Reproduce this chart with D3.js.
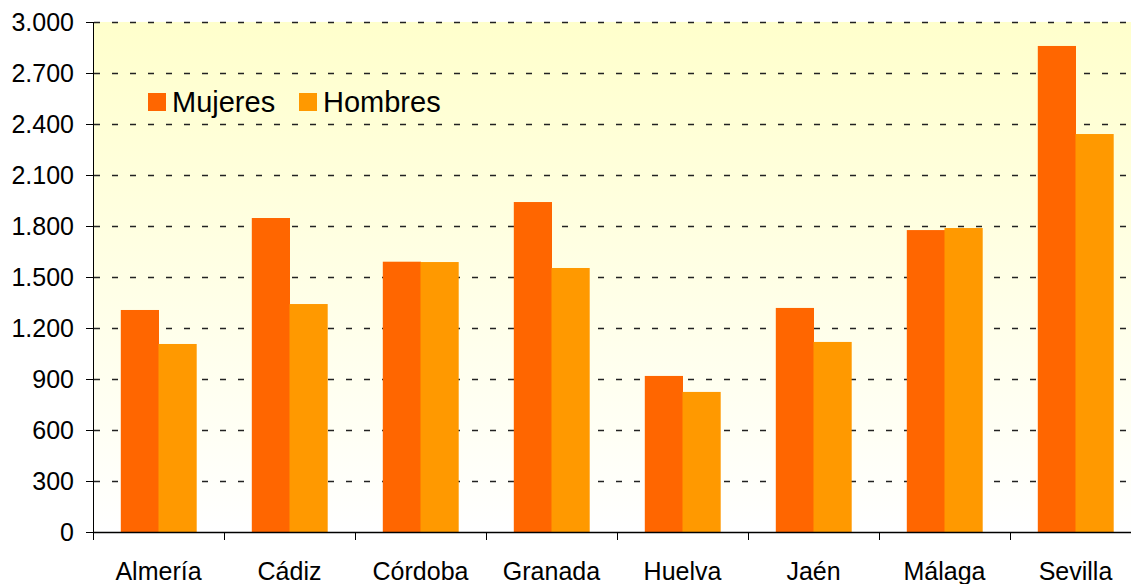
<!DOCTYPE html>
<html>
<head>
<meta charset="utf-8">
<script src="https://cdn.jsdelivr.net/npm/d3@7"></script>
<style>
    body { margin: 0; background: #fff; }
    text { font-family: "Liberation Sans", Arial, sans-serif; fill: #000; }
</style>
</head>
<body>
<div id="chart"></div>
<script>
// Datos
const provincias = ["Almería", "Cádiz", "Córdoba", "Granada", "Huelva", "Jaén", "Málaga", "Sevilla"];
const series = ["Mujeres", "Hombres"];
const mujeres = [1306, 1847, 1590, 1941, 918, 1318, 1776, 2859];
const hombres = [1106, 1341, 1588, 1553, 824, 1118, 1788, 2341];
const yTicks = [0, 300, 600, 900, 1200, 1500, 1800, 2100, 2400, 2700, 3000];
const colores = ["#FF6600", "#FF9900"];

const data = provincias.map((p, i) => ({ provincia: p, Mujeres: mujeres[i], Hombres: hombres[i] }));

// Tamaños
const W = 1131, H = 584;
const margin = { top: 22, left: 93 };
const band = 131;
const height = 510;

const svg = d3.select("#chart")
    .append("svg")
    .attr("width", W)
    .attr("height", H);

// Fondo degradado
const grad = svg.append("defs").append("linearGradient")
    .attr("id", "fondo")
    .attr("x1", 0).attr("y1", 0).attr("x2", 0).attr("y2", 1);
grad.append("stop").attr("offset", "0%").attr("stop-color", "#FFFFCC");
grad.append("stop").attr("offset", "100%").attr("stop-color", "#FFFFFF");

const x = d3.scaleBand()
    .domain(provincias)
    .range([margin.left, margin.left + band * provincias.length])
    .padding(0);

const xs = d3.scaleBand()
    .domain(series)
    .range([27.8, 103.2]);

const y = d3.scaleLinear()
    .domain([0, 3000])
    .range([margin.top + height, margin.top]);

svg.append("rect")
    .attr("x", margin.left)
    .attr("y", margin.top)
    .attr("width", W - margin.left)
    .attr("height", height)
    .attr("fill", "url(#fondo)");

// Líneas de cuadrícula
svg.append("g")
    .selectAll("line")
    .data(yTicks.filter(d => d > 0))
    .enter()
    .append("line")
    .attr("x1", margin.left + 1)
    .attr("x2", W)
    .attr("y1", d => Math.round(y(d)) + 0.5)
    .attr("y2", d => Math.round(y(d)) + 0.5)
    .attr("stroke", "#222")
    .attr("stroke-width", 1.3)
    .attr("stroke-dasharray", "6,12");

// Barras
const grupos = svg.append("g")
    .selectAll("g")
    .data(data)
    .enter()
    .append("g")
    .attr("transform", d => `translate(${x(d.provincia)},0)`);

grupos.selectAll("rect")
    .data(d => series.map((s, j) => ({ serie: s, valor: d[s], color: colores[j] })))
    .enter()
    .append("rect")
    .attr("x", d => xs(d.serie))
    .attr("y", d => y(d.valor))
    .attr("width", xs.bandwidth() + 0.5)
    .attr("height", d => y(0) - y(d.valor))
    .attr("fill", d => d.color);

// Eje Y
const ejeY = svg.append("g")
    .attr("transform", `translate(${margin.left},0)`)
    .call(d3.axisLeft(y)
        .tickValues(yTicks)
        .tickFormat(d => d3.format(",")(d).replace(/,/g, "."))
        .tickSize(7)
        .tickPadding(12));
ejeY.select(".domain").attr("stroke", "#000").attr("d", `M0.5,${y(0)}V${y(3000)}`);
ejeY.selectAll(".tick").attr("transform", d => `translate(0,${Math.round(y(d)) + 0.5})`);
ejeY.selectAll("line").attr("stroke", "#000");
ejeY.selectAll("text")
    .style("font-size", "25px")
    .attr("font-family", null);

// Eje X
const ejeX = svg.append("g")
    .attr("transform", `translate(0,${y(0)})`);
ejeX.append("line")
    .attr("x1", margin.left)
    .attr("x2", W)
    .attr("y1", 0.5)
    .attr("y2", 0.5)
    .attr("stroke", "#000")
    .attr("stroke-width", 1.5);
ejeX.selectAll(".tick")
    .data(provincias)
    .enter()
    .append("line")
    .attr("class", "tick")
    .attr("x1", d => x(d) + 0.5)
    .attr("x2", d => x(d) + 0.5)
    .attr("y1", 0)
    .attr("y2", 8)
    .attr("stroke", "#000");
ejeX.selectAll(".etiqueta")
    .data(provincias)
    .enter()
    .append("text")
    .attr("class", "etiqueta")
    .attr("x", d => x(d) + band / 2)
    .attr("y", 48)
    .attr("text-anchor", "middle")
    .style("font-size", "25px")
    .text(d => d);

// Leyenda
const leyenda = svg.append("g")
    .selectAll("g")
    .data(series)
    .enter()
    .append("g")
    .attr("transform", (d, i) => `translate(${[148, 299][i]},93)`);
leyenda.append("rect")
    .attr("width", 18)
    .attr("height", 18)
    .attr("fill", (d, i) => colores[i]);
leyenda.append("text")
    .attr("x", 24)
    .attr("y", 19)
    .style("font-size", "29px")
    .text(d => d);
</script>
</body>
</html>
